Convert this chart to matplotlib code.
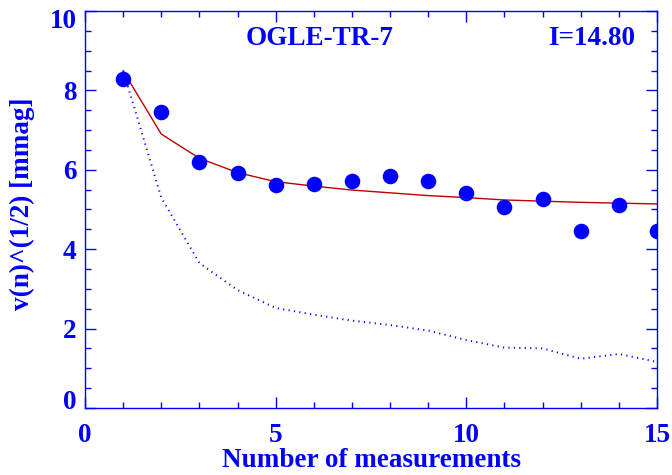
import numpy as np
import matplotlib.pyplot as plt
from matplotlib.ticker import MultipleLocator
from matplotlib.transforms import ScaledTranslation

# ---- data ----
n_meas = [1, 2, 3, 4, 5, 6, 7, 8, 9, 10, 11, 12, 13, 14, 15]
rms_obs = [8.28, 7.45, 6.20, 5.93, 5.61, 5.64, 5.73, 5.85, 5.72, 5.41,
           5.06, 5.27, 4.47, 5.11, 4.47]
rms_fit = [8.49, 6.90, 6.29, 5.93, 5.70, 5.59, 5.49, 5.42, 5.35, 5.30,
           5.24, 5.21, 5.18, 5.16, 5.14]
rms_white = [8.50, 5.30, 3.65, 2.97, 2.52, 2.35, 2.20, 2.09, 1.95, 1.71,
             1.52, 1.50, 1.24, 1.36, 1.16]
star_name = "OGLE-TR-7"
mag_label = "I=14.80"

blue = "#0000ff"
fs = 19.5
plt.rcParams["font.family"] = ["Liberation Serif", "DejaVu Serif"]
plt.rcParams["font.weight"] = "bold"

fig = plt.figure(figsize=(6.72, 4.75), dpi=100)
ax = fig.add_axes([0.1265, 0.1411, 0.8512, 0.8357])

ax.plot(n_meas, rms_white, linestyle=(0, (0.6, 2.2)), color=blue, lw=1.4)
ax.plot(n_meas, rms_fit, color="#c00000", lw=1.0)
ax.plot(n_meas, rms_obs, "o", color=blue, ms=10.2, mec=blue)

ax.set_xlim(0, 15)
ax.set_ylim(0, 10)
ax.xaxis.set_major_locator(MultipleLocator(5))
ax.xaxis.set_minor_locator(MultipleLocator(1))
ax.yaxis.set_major_locator(MultipleLocator(2))
ax.yaxis.set_minor_locator(MultipleLocator(0.5))

for sp in ax.spines.values():
    sp.set_color(blue)
    sp.set_linewidth(1.0)
ax.tick_params(which="both", direction="in", top=True, right=True,
               colors=blue, labelsize=fs)
ax.tick_params(which="major", length=8, width=1.0)
ax.tick_params(which="minor", length=4, width=1.0)
ax.tick_params(axis="x", pad=11)
ax.tick_params(axis="y", pad=6)

# shift the end labels of the y axis inward
fig.canvas.draw()
for tick in ax.yaxis.get_major_ticks():
    lab = tick.label1
    lab.set_fontweight("bold")
    if lab.get_text() == "0":
        lab.set_transform(lab.get_transform() + ScaledTranslation(0, 8 / 100, fig.dpi_scale_trans))
    elif lab.get_text() == "10":
        lab.set_transform(lab.get_transform() + ScaledTranslation(0, -7 / 100, fig.dpi_scale_trans))
for tick in ax.xaxis.get_major_ticks():
    tick.label1.set_fontweight("bold")

ax.set_xlabel("Number of measurements", color=blue, fontsize=fs, fontweight="bold")
ax.set_ylabel("v(n)^(1/2) [mmag]", color=blue, fontsize=fs, fontweight="bold")
ax.xaxis.set_label_coords(0.501, -0.10)
ax.yaxis.set_label_coords(-0.087, 0.515)

ax.text(6.14, 9.32, star_name, color=blue, fontsize=fs, fontweight="bold",
        ha="center", va="center")
ax.text(14.42, 9.32, mag_label, color=blue, fontsize=fs, fontweight="bold",
        ha="right", va="center")

fig.savefig("out.png", dpi=100)
